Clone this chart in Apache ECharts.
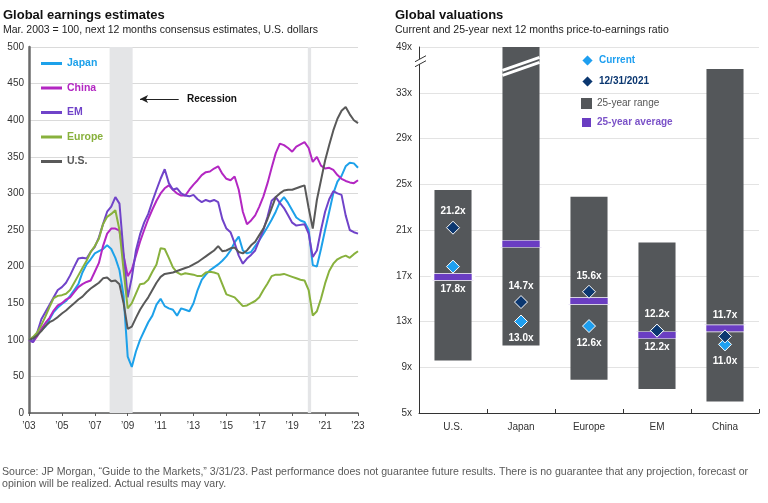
<!DOCTYPE html>
<html>
<head>
<meta charset="utf-8">
<title>Global earnings and valuations</title>
<script src="https://cdn.jsdelivr.net/npm/echarts/dist/echarts.min.js"></script>
<style>
  html, body { margin: 0; padding: 0; background: #fff; }
  #chart { width: 768px; height: 503px; }
</style>
</head>
<body>
<div id="chart"></div>
<script>
// ---- left panel: earnings estimates, quarterly from Mar. 2003 ----
const startYear = 2003;
const japan = [
  100, 102, 107, 113, 118, 128, 138, 144, 149, 153, 160, 168, 176, 192, 203, 210,
  218, 221, 224, 229, 224, 212, 195, 160, 77, 63, 84, 100, 112, 124, 133, 148,
  156, 146, 143, 141, 133, 143, 141, 139, 150, 168, 182, 189, 195, 199, 203, 208,
  214, 222, 233, 241, 222, 218, 220, 228, 236, 245, 254, 264, 275, 288, 295, 287,
  277, 267, 263, 261, 250, 202, 200, 224, 250, 275, 300, 316, 324, 337, 342, 341,
  335
];
const china = [
  100, 97, 105, 115, 123, 130, 140, 147, 150, 155, 158, 165, 172, 176, 179, 181,
  193, 205, 228, 245, 252, 252, 249, 215, 187, 196, 215, 234, 250, 265, 278, 290,
  300, 307, 311, 305, 300, 297, 297, 305, 312, 318, 325, 329, 330, 334, 337, 327,
  320, 318, 323, 305, 275, 258, 263, 270, 282, 296, 314, 335, 355, 368, 366, 362,
  357, 364, 367, 370, 362, 343, 350, 338, 334, 335, 332, 325, 320, 317, 315, 314,
  318
];
const em = [
  100, 97, 110, 128, 138, 148, 158, 168, 172, 178, 188, 200, 211, 212, 211, 220,
  227, 240, 258, 275, 282, 295, 286, 218, 158, 185, 222, 244, 260, 272, 289, 305,
  320, 333, 314, 305, 307, 300, 297, 296, 298, 292, 288, 291, 289, 291, 288, 265,
  252, 247, 232, 215, 204, 211, 216, 222, 236, 250, 268, 290, 295, 287, 280, 270,
  260, 256, 257, 258, 245, 213, 222, 250, 275, 292, 303, 300, 298, 270, 250, 247,
  245
];
const europe = [
  100, 104, 110, 120, 132, 145, 157, 160, 161, 163, 168, 178, 188, 198, 208, 220,
  228, 238, 258, 268, 272, 277, 250, 195, 143, 150, 163, 176, 177, 182, 193, 203,
  225, 224, 212, 199, 192, 189, 191, 190, 189, 187, 187, 192, 193, 192, 190, 176,
  162, 160, 158, 152, 146, 147, 150, 153, 158, 168, 177, 187, 189, 189, 190, 188,
  186, 184, 182, 181, 168, 133, 139, 156, 177, 194, 204, 210, 213, 215, 212, 217,
  221
];
const us = [
  100, 102, 106, 112, 119, 124, 127, 131, 136, 140, 145, 150, 155, 159, 165, 170,
  174, 178, 184, 185, 180, 181, 176, 150, 115, 118, 130, 141, 150, 158, 168, 178,
  186, 190, 191, 192, 194, 196, 198, 200, 203, 206, 210, 214, 218, 222, 228, 221,
  222, 225, 226, 220, 218, 222, 229, 234, 243, 252, 265, 280, 295, 300, 304, 305,
  305, 307, 309, 311, 280, 252, 291, 318, 345, 366, 386, 402, 413, 418, 408, 400,
  396
];
const recessions = [[2007.9, 2009.3], [2019.95, 2020.15]];

const lineSeries = [
  { name: 'Japan', data: japan, color: '#1DA1EA' },
  { name: 'China', data: china, color: '#B327C2' },
  { name: 'EM', data: em, color: '#7043C9' },
  { name: 'Europe', data: europe, color: '#88B13D' },
  { name: 'U.S.', data: us, color: '#595959' }
];

// ---- right panel: valuations ----
const regions = ['U.S.', 'Japan', 'Europe', 'EM', 'China'];
const rangeLow = [9.6, 10.9, 7.9, 7.1, 6.0];
const rangeHigh = [24.5, 49, 23.9, 19.9, 41.3];
const avg25 = [16.9, 19.8, 14.8, 11.8, 12.4];
const current = [17.8, 13.0, 12.6, 12.2, 11.0];
const dec2021 = [21.2, 14.7, 15.6, 12.2, 11.7];

const FONT = 'Liberation Sans, Arial, sans-serif';
const GRAY_BAR = '#54575A';
const PURPLE = '#6A3DC2';
const LIGHT_BLUE = '#1E9FF0';
const NAVY = '#0B3770';

// axis is broken above 33x: 33 -> 49 squeezed into one 4-point step
const brk = v => (v <= 33 ? v : 33 + (v - 33) / 4);
const unbrk = v => (v <= 33 ? v : 33 + (v - 33) * 4);

const quarter = i => startYear + i / 4;

const chart = echarts.init(document.getElementById('chart'));

const option = {
  animation: false,
  textStyle: { fontFamily: FONT },
  title: [
    {
      text: 'Global earnings estimates',
      subtext: 'Mar. 2003 = 100, next 12 months consensus estimates, U.S. dollars',
      left: 3, top: 9, padding: 0, itemGap: 3,
      textStyle: { fontSize: 13, fontWeight: 'bold', color: '#111', fontFamily: FONT },
      subtextStyle: { fontSize: 10.5, color: '#222', fontFamily: FONT }
    },
    {
      text: 'Global valuations',
      subtext: 'Current and 25-year next 12 months price-to-earnings ratio',
      left: 395, top: 9, padding: 0, itemGap: 3,
      textStyle: { fontSize: 13, fontWeight: 'bold', color: '#111', fontFamily: FONT },
      subtextStyle: { fontSize: 10.5, color: '#222', fontFamily: FONT }
    },
    {
      text: 'Source: JP Morgan, \u201cGuide to the Markets,\u201d 3/31/23. Past performance does not guarantee future results. There is no guarantee that any projection, forecast or\nopinion will be realized. Actual results may vary.',
      left: 2, top: 466, padding: 0,
      textStyle: {
        fontSize: 10.6, fontWeight: 'normal', color: '#595959', lineHeight: 12,
        fontFamily: 'Liberation Sans Narrow, Liberation Sans, sans-serif'
      }
    }
  ],
  legend: [
    {
      orient: 'vertical', left: 41, top: 58, padding: 0,
      itemWidth: 21, itemHeight: 3, itemGap: 13.5,
      icon: 'rect',
      data: lineSeries.map(s => ({
        name: s.name,
        textStyle: { color: s.color, fontWeight: 'bold', fontSize: 10.5 }
      }))
    },
    {
      orient: 'vertical', left: 580, top: 53, padding: 0,
      itemWidth: 13, itemHeight: 13, itemGap: 6,
      textStyle: { fontSize: 10 },
      data: [
        { name: 'Current', icon: 'diamond', textStyle: { color: LIGHT_BLUE, fontWeight: 'bold' } },
        { name: '12/31/2021', icon: 'diamond', textStyle: { color: NAVY, fontWeight: 'bold' } }
      ]
    },
    {
      orient: 'vertical', left: 580, top: 98, padding: 0,
      itemWidth: 11, itemHeight: 11, itemGap: 7,
      textStyle: { fontSize: 10 },
      data: [
        { name: '25-year range', icon: 'rect', textStyle: { color: '#555' } },
        { name: '25-year average', icon: 'rect', textStyle: { color: '#7B52C8', fontWeight: 'bold' } }
      ]
    }
  ],
  grid: [
    { left: 29, right: 410, top: 47, bottom: 90 },
    { left: 419, right: 9, top: 47, bottom: 90 }
  ],
  xAxis: [
    {
      type: 'value', gridIndex: 0, min: 2003, max: 2023, interval: 2,
      axisLine: { lineStyle: { color: '#595959', width: 1.5 } },
      axisTick: { show: true, length: 3, lineStyle: { color: '#595959' } },
      axisLabel: { formatter: v => '\u2019' + String(v).slice(2), fontSize: 10, color: '#333', margin: 8 },
      splitLine: { show: false }
    },
    {
      type: 'category', gridIndex: 1, data: regions,
      axisLine: { lineStyle: { color: '#333', width: 1 } },
      axisTick: { show: true, inside: true, length: 4, lineStyle: { color: '#333' } },
      axisLabel: { fontSize: 10, color: '#333', margin: 9 }
    }
  ],
  yAxis: [
    {
      type: 'value', gridIndex: 0, min: 0, max: 500, interval: 50,
      axisLine: { show: true, lineStyle: { color: '#6B6B6B', width: 2.5 } },
      axisTick: { show: false },
      axisLabel: { fontSize: 10, color: '#333', margin: 5 },
      splitLine: { lineStyle: { color: '#DADADA', width: 1 } }
    },
    {
      type: 'value', gridIndex: 1, min: 5, max: 37, interval: 4,
      axisLine: { show: true, lineStyle: { color: '#333', width: 1 } },
      axisTick: { show: false },
      axisLabel: { fontSize: 10, color: '#333', margin: 7, formatter: v => unbrk(v) + 'x' },
      splitLine: { lineStyle: { color: '#E3E3E3', width: 1 } }
    }
  ],
  series: [
    {
      // recession shading + note
      type: 'line', xAxisIndex: 0, yAxisIndex: 0, data: [], z: 1, silent: true,
      markArea: {
        silent: true,
        itemStyle: { color: '#E4E5E7' },
        data: recessions.map(r => [{ xAxis: r[0] }, { xAxis: r[1] }])
      },
      markLine: {
        silent: true,
        label: { show: false },
        lineStyle: { color: '#222', width: 1, type: 'solid' },
        data: [[
          { coord: [2012.1, 429], symbol: 'none' },
          { coord: [2009.75, 429], symbol: 'arrow', symbolSize: [6, 8] }
        ]]
      },
      markPoint: {
        silent: true,
        symbol: 'circle', symbolSize: 1,
        itemStyle: { color: 'rgba(0,0,0,0)' },
        label: {
          show: true, position: 'right', distance: 2, formatter: 'Recession',
          color: '#111', fontSize: 10, fontWeight: 'bold'
        },
        data: [{ coord: [2012.45, 429] }]
      }
    },
    ...lineSeries.map(s => ({
      name: s.name, type: 'line', xAxisIndex: 0, yAxisIndex: 0, z: 2,
      symbol: 'none', color: s.color,
      lineStyle: { width: 2, color: s.color },
      data: s.data.map((v, i) => [quarter(i), v])
    })),
    {
      name: '25-year range', type: 'custom', xAxisIndex: 1, yAxisIndex: 1, z: 2,
      itemStyle: { color: GRAY_BAR },
      encode: { x: 0, y: [1, 2] },
      data: regions.map((r, i) => [i, brk(rangeLow[i]), brk(rangeHigh[i])]),
      renderItem: (params, api) => {
        const lo = api.coord([api.value(0), api.value(1)]);
        const hi = api.coord([api.value(0), api.value(2)]);
        const w = api.size([1, 0])[0] * 0.545;
        return {
          type: 'rect',
          shape: { x: lo[0] - w / 2, y: hi[1], width: w, height: lo[1] - hi[1] },
          style: { fill: GRAY_BAR }
        };
      }
    },
    {
      name: '25-year average', type: 'scatter', xAxisIndex: 1, yAxisIndex: 1, z: 3,
      symbol: 'rect', symbolSize: [41, 7],
      itemStyle: { color: PURPLE, borderColor: '#fff', borderWidth: 1.5, opacity: 1 },
      data: avg25.map((v, i) => [i, brk(v)])
    },
    {
      name: 'Current', type: 'scatter', xAxisIndex: 1, yAxisIndex: 1, z: 4,
      symbol: 'diamond', symbolSize: 13,
      itemStyle: { color: LIGHT_BLUE, borderColor: '#fff', borderWidth: 1, opacity: 1 },
      label: {
        show: true, position: 'bottom', distance: 5, color: '#fff', fontSize: 10, fontWeight: 'bold',
        formatter: p => current[p.dataIndex].toFixed(1) + 'x'
      },
      data: current.map((v, i) => ({
        value: [i, brk(v)],
        label: { distance: i === 0 ? 11 : 5 }
      }))
    },
    {
      name: '12/31/2021', type: 'scatter', xAxisIndex: 1, yAxisIndex: 1, z: 5,
      symbol: 'diamond', symbolSize: 13,
      itemStyle: { color: NAVY, borderColor: '#fff', borderWidth: 1, opacity: 1 },
      label: {
        show: true, position: 'top', distance: 4, color: '#fff', fontSize: 10, fontWeight: 'bold',
        formatter: p => dec2021[p.dataIndex].toFixed(1) + 'x'
      },
      data: dec2021.map((v, i) => ({
        value: [i, brk(v)],
        label: { distance: i === 4 ? 9 : 4 }
      }))
    }
  ]
};

chart.setOption(option);

// break marks: on the valuation axis and across the Japan bar
const axisX = 419;
const axisBreak = chart.convertToPixel({ gridIndex: 1 }, [0, 35.8]);
const jp = chart.convertToPixel({ gridIndex: 1 }, [1, 35.3]);
const halfBar = (chart.convertToPixel({ gridIndex: 1 }, [2, 0])[0] -
                 chart.convertToPixel({ gridIndex: 1 }, [1, 0])[0]) * 0.545 / 2;
const by = axisBreak[1];
chart.setOption({
  graphic: [
    {
      type: 'polygon', z: 100,
      shape: { points: [[axisX - 4, by + 1], [axisX + 6, by - 5], [axisX + 6, by], [axisX - 4, by + 6]] },
      style: { fill: '#fff' }
    },
    { type: 'line', z: 101, shape: { x1: axisX - 4, y1: by + 1, x2: axisX + 7, y2: by - 5 }, style: { stroke: '#333', lineWidth: 1 } },
    { type: 'line', z: 101, shape: { x1: axisX - 4, y1: by + 6, x2: axisX + 7, y2: by }, style: { stroke: '#333', lineWidth: 1 } },
    { type: 'line', z: 100, shape: { x1: jp[0] - halfBar, y1: jp[1] + 4, x2: jp[0] + halfBar, y2: jp[1] - 9 }, style: { stroke: '#fff', lineWidth: 3 } },
    { type: 'line', z: 100, shape: { x1: jp[0] - halfBar, y1: jp[1] + 9, x2: jp[0] + halfBar, y2: jp[1] - 4 }, style: { stroke: '#fff', lineWidth: 3 } }
  ]
});
</script>
</body>
</html>
